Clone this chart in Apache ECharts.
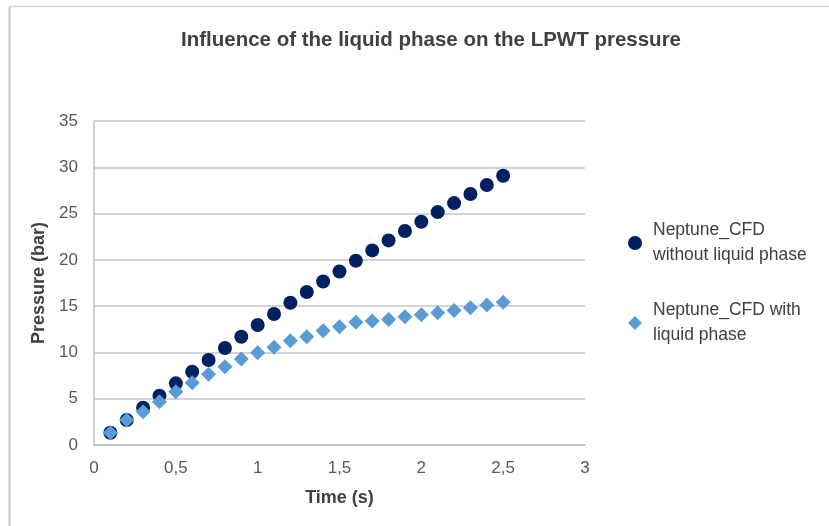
<!DOCTYPE html>
<html>
<head>
<meta charset="utf-8">
<script src="https://cdn.jsdelivr.net/npm/echarts@6/dist/echarts.min.js"></script>
<style>
  html, body { margin: 0; padding: 0; background: #fff; }
  #main { width: 829px; height: 526px; }
</style>
</head>
<body>
<div id="main"></div>
<script>
    // time in seconds
    var times = [0.1, 0.2, 0.3, 0.4, 0.5, 0.6, 0.7, 0.8, 0.9, 1.0, 1.1, 1.2, 1.3,
                 1.4, 1.5, 1.6, 1.7, 1.8, 1.9, 2.0, 2.1, 2.2, 2.3, 2.4, 2.5];
    // pressure (bar)
    var withoutLiquid = [1.33, 2.70, 4.03, 5.33, 6.66, 7.92, 9.18, 10.48, 11.70, 12.96,
                         14.15, 15.37, 16.52, 17.67, 18.75, 19.91, 21.02, 22.10, 23.11,
                         24.12, 25.16, 26.13, 27.11, 28.08, 29.09];
    var withLiquid = [1.33, 2.70, 3.60, 4.68, 5.76, 6.73, 7.63, 8.46, 9.29, 9.97,
                      10.55, 11.27, 11.70, 12.35, 12.78, 13.25, 13.39, 13.57, 13.86,
                      14.07, 14.29, 14.54, 14.83, 15.12, 15.41];
    var seriesNames = ['Neptune_CFD\nwithout liquid phase', 'Neptune_CFD with\nliquid phase'];

    function pairs(ys) {
        return times.map(function (t, i) { return [t, ys[i]]; });
    }

    var font = 'Liberation Sans, Arial, sans-serif';
    var myChart = echarts.init(document.getElementById('main'));
    myChart.setOption({
        animation: false,
        title: {
            text: 'Influence of the liquid phase on the LPWT pressure',
            left: 426,
            textAlign: 'center',
            top: 25,
            textStyle: { fontFamily: font, fontSize: 20.5, fontWeight: 'bold', color: '#404040' }
        },
        graphic: [
            { type: 'line', shape: { x1: 9.5, y1: 7, x2: 9.5, y2: 526 }, style: { stroke: '#c8c8c8', lineWidth: 2 } },
            { type: 'line', shape: { x1: 9, y1: 6.5, x2: 829, y2: 6.5 }, style: { stroke: '#d6d6d6', lineWidth: 1.5 } }
        ],
        legend: {
            orient: 'vertical',
            left: 623,
            top: 207,
            itemGap: 18,
            itemWidth: 14,
            itemHeight: 14,
            textStyle: {
                fontFamily: font, fontSize: 17.5, color: '#404040',
                lineHeight: 25, padding: [12, 0, 0, 6]
            },
            data: [
                { name: seriesNames[0], icon: 'circle' },
                { name: seriesNames[1], icon: 'diamond' }
            ]
        },
        grid: { left: 94, right: 244, top: 121, bottom: 81 },
        xAxis: {
            type: 'value',
            min: 0, max: 3, interval: 0.5,
            name: 'Time (s)',
            nameLocation: 'middle',
            nameGap: 44,
            nameTextStyle: { fontFamily: font, fontSize: 18, fontWeight: 'bold', color: '#404040' },
            axisLine: { lineStyle: { color: '#bfbfbf', width: 1.5 } },
            axisTick: { show: false },
            splitLine: { show: false },
            axisLabel: {
                fontFamily: font, fontSize: 17, color: '#595959', margin: 15,
                formatter: function (v) { return String(v).replace('.', ','); }
            }
        },
        yAxis: {
            type: 'value',
            min: 0, max: 35, interval: 5,
            name: 'Pressure (bar)',
            nameLocation: 'middle',
            nameGap: 43,
            nameTextStyle: { fontFamily: font, fontSize: 18, fontWeight: 'bold', color: '#404040' },
            axisLine: { show: true, lineStyle: { color: '#bfbfbf', width: 1.5 } },
            axisTick: { show: false },
            splitLine: { lineStyle: { color: '#c4c4c4', width: 1.5 } },
            axisLabel: { fontFamily: font, fontSize: 17, color: '#595959', margin: 16 }
        },
        series: [{
            name: seriesNames[0],
            type: 'scatter',
            symbol: 'circle',
            symbolSize: 14,
            itemStyle: { color: '#002060', opacity: 1 },
            data: pairs(withoutLiquid)
        }, {
            name: seriesNames[1],
            type: 'scatter',
            symbol: 'diamond',
            symbolSize: 15,
            itemStyle: { color: '#5b9bd5', opacity: 1 },
            data: pairs(withLiquid)
        }]
    });
</script>
</body>
</html>
